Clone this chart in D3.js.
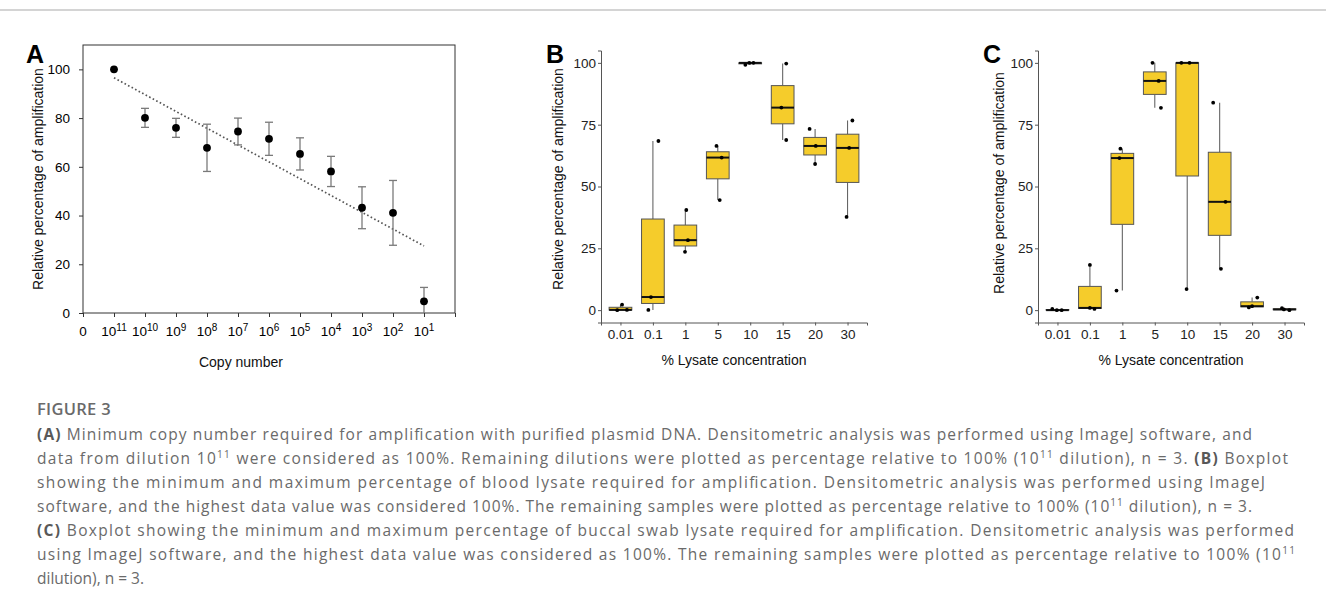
<!DOCTYPE html>
<html lang="en">
<head>
<meta charset="UTF-8">
<title>Figure 3</title>
<script src="https://cdn.jsdelivr.net/npm/d3@7"></script>
<style>
  body { margin: 0; background: #fff; }
  svg { display: block; font-family: "Liberation Sans", Arial, sans-serif; }
  .tick text { font-size: 13.5px; }
  .caption text { font-family: "Open Sans", Lato, sans-serif; font-size: 15.5px; fill: #6a6a6a; }
  .caption .b { font-weight: bold; fill: #585858; }
</style>
</head>
<body>
<svg id="fig" width="1326" height="607"></svg>
<script>
// ---- data ----
// panel A: copy number (10^x) vs relative amplification, mean +/- error
const copyExp = [11, 10, 9, 8, 7, 6, 5, 4, 3, 2, 1];
const copyMean = [100, 80.1, 76, 67.8, 74.5, 71.5, 65.3, 58.1, 43.2, 41.1, 4.8];
const copyErr = [0, 3.9, 3.9, 9.7, 5.5, 6.8, 6.6, 6.2, 8.6, 13.3, 5.7];
const yTicksA = [0, 20, 40, 60, 80, 100];

// panels B and C: % lysate concentration, three replicates each
const lysate = ["0.01", "0.1", "1", "5", "10", "15", "20", "30"];
const bloodPts = [
  [0, 0.1, 2.2], [0.1, 5.3, 68.4], [23.6, 28.3, 40.5], [44.5, 61.7, 66.4],
  [99.2, 100, 100], [68.8, 81.9, 99.7], [59.1, 66.4, 73.3], [37.7, 65.6, 76.7]
];
const buccalPts = [
  [0, 0, 0.5], [0.5, 0.9, 18.3], [7.9, 61.5, 65.3], [81.8, 92.7, 100],
  [8.5, 100, 100], [16.7, 43.8, 83.9], [1.1, 1.6, 5.1], [0, 0.3, 0.8]
];
const yTicksBC = [0, 25, 50, 75, 100];

// horizontal jitter of the replicate dots (fraction of category step)
const jitterB = [[-0.1, 0.2, 0.05], [-0.14, -0.06, 0.17], [-0.01, 0.08, 0.03], [0.06, 0.12, -0.04],
                 [-0.15, -0.03, 0.1], [0.11, -0.04, 0.11], [0, 0.02, -0.17], [-0.03, 0.05, 0.15]];
const jitterC = [[-0.02, 0.13, -0.16], [0.14, 0, 0], [-0.18, -0.09, -0.06], [0.19, 0.12, -0.07],
                 [-0.02, -0.18, 0.07], [0.04, 0.18, -0.2], [-0.1, 0, 0.16], [0.15, -0.02, -0.08]];

const svg = d3.select("#fig");
const yellow = "#F5CC2B";

// thin rule at the top of the figure
svg.append("line").attr("x1", 0).attr("x2", 1326).attr("y1", 10).attr("y2", 10)
  .attr("stroke", "#d4d4d4").attr("stroke-width", 2);

// ---- panel A ----
const xA = d3.scaleLinear().domain([0, 12]).range([83, 455]);
const yA = d3.scaleLinear().domain([0, 110]).range([313, 45]);
const gA = svg.append("g");

gA.append("rect")
  .attr("x", xA(0)).attr("y", yA(110))
  .attr("width", xA(12) - xA(0)).attr("height", yA(0) - yA(110))
  .attr("fill", "none").attr("stroke", "#333");

gA.append("g")
  .attr("transform", `translate(${xA(0)},0)`)
  .call(d3.axisLeft(yA).tickValues(yTicksA).tickSize(4).tickPadding(9))
  .attr("font-size", null).attr("font-family", null)
  .call(g => g.select(".domain").remove())
  .call(g => g.selectAll("line").attr("stroke", "#333"))
  .call(g => g.selectAll("text").attr("fill", "#000"));

gA.append("g")
  .attr("transform", `translate(0,${yA(0)})`)
  .call(d3.axisBottom(xA).tickValues(d3.range(0, 13)).tickSize(4).tickFormat(""))
  .call(g => g.select(".domain").remove())
  .call(g => g.selectAll("line").attr("stroke", "#333"));

// x tick labels: 0, then 10^11 ... 10^1
const xLab = gA.append("g").style("font-size", "13.5px").attr("fill", "#000");
xLab.append("text").attr("x", xA(0)).attr("y", 336).attr("text-anchor", "middle").text("0");
copyExp.forEach((e, i) => {
  const t = xLab.append("text").attr("x", xA(i + 1)).attr("y", 336).attr("text-anchor", "middle");
  t.append("tspan").text("10");
  t.append("tspan").style("font-size", "10px").attr("dy", -5).text(e);
});

// linear trend (least squares on the means)
const xs = copyMean.map((d, i) => i + 1);
const mx = d3.mean(xs), my = d3.mean(copyMean);
const slope = d3.sum(xs, (x, i) => (x - mx) * (copyMean[i] - my)) / d3.sum(xs, x => (x - mx) ** 2);
const icpt = my - slope * mx;
gA.append("line")
  .attr("x1", xA(1)).attr("y1", yA(icpt + slope * 1))
  .attr("x2", xA(11)).attr("y2", yA(icpt + slope * 11))
  .attr("stroke", "#555").attr("stroke-width", 1.7).attr("stroke-dasharray", "1.6,2.4");

// error bars
const eb = gA.append("g").attr("stroke", "#7a7a7a").attr("stroke-width", 1.3);
copyMean.forEach((m, i) => {
  if (!copyErr[i]) return;
  const x = xA(i + 1);
  const lo = Math.max(0, m - copyErr[i]), hi = m + copyErr[i];
  eb.append("line").attr("x1", x).attr("x2", x).attr("y1", yA(lo)).attr("y2", yA(hi));
  eb.append("line").attr("x1", x - 4).attr("x2", x + 4).attr("y1", yA(hi)).attr("y2", yA(hi));
  if (lo > 0) eb.append("line").attr("x1", x - 4).attr("x2", x + 4).attr("y1", yA(lo)).attr("y2", yA(lo));
});

gA.selectAll("circle.pt").data(copyMean).join("circle")
  .attr("class", "pt")
  .attr("cx", (d, i) => xA(i + 1)).attr("cy", d => yA(d))
  .attr("r", 3.9).attr("fill", "#000");

gA.append("text").attr("transform", "translate(43,179) rotate(-90)")
  .attr("text-anchor", "middle").style("font-size", "14px").attr("fill", "#111")
  .text("Relative percentage of amplification");
gA.append("text").attr("x", 241).attr("y", 367).attr("text-anchor", "middle")
  .style("font-size", "14px").attr("fill", "#111").text("Copy number");
gA.append("text").attr("x", 26).attr("y", 63).style("font-size", "25px").attr("font-weight", "bold").text("A");

// ---- panels B and C (boxplots) ----
function boxPanel(opts) {
  const x = d3.scalePoint().domain(lysate).range([opts.x0, opts.x0 + 266]).padding(0.6);
  const y = d3.scaleLinear().domain([-5, 105]).range([322.5, 50.5]);
  const step = x.step(), bw = step * 0.7;
  const g = svg.append("g");

  g.append("g").attr("transform", `translate(${opts.x0},0)`)
    .call(d3.axisLeft(y).tickValues(yTicksBC).tickSize(3).tickPadding(opts.pad))
    .attr("font-size", null).attr("font-family", null)
    .call(a => a.select(".domain").attr("stroke", "#555"))
    .call(a => a.selectAll("line").attr("stroke", "#555"))
    .call(a => a.selectAll("text").attr("fill", "#222"));
  g.append("g").attr("transform", `translate(0,${y(-5)})`)
    .call(d3.axisBottom(x).tickSize(3).tickPadding(4))
    .attr("font-size", null).attr("font-family", null)
    .call(a => a.select(".domain").attr("stroke", "#555"))
    .call(a => a.selectAll("line").attr("stroke", "#555"))
    .call(a => a.selectAll("text").attr("fill", "#222"));

  opts.pts.forEach((p, i) => {
    const s = p.slice().sort(d3.ascending);
    const q1 = d3.quantile(s, 0.25), med = d3.quantile(s, 0.5), q3 = d3.quantile(s, 0.75);
    const iqr = q3 - q1;
    const lo = d3.min(s.filter(v => v >= q1 - 1.5 * iqr));
    const hi = d3.max(s.filter(v => v <= q3 + 1.5 * iqr));
    const cx = x(lysate[i]);
    g.append("line").attr("x1", cx).attr("x2", cx).attr("y1", y(hi)).attr("y2", y(q3))
      .attr("stroke", "#666").attr("stroke-width", 1.1);
    g.append("line").attr("x1", cx).attr("x2", cx).attr("y1", y(q1)).attr("y2", y(lo))
      .attr("stroke", "#666").attr("stroke-width", 1.1);
    g.append("rect").attr("x", cx - bw / 2).attr("y", y(q3))
      .attr("width", bw).attr("height", Math.max(0.5, y(q1) - y(q3)))
      .attr("fill", yellow).attr("stroke", "#555").attr("stroke-width", 1);
    g.append("line").attr("x1", cx - bw / 2).attr("x2", cx + bw / 2).attr("y1", y(med)).attr("y2", y(med))
      .attr("stroke", "#111").attr("stroke-width", 2);
    s.forEach((v, k) => {
      g.append("circle").attr("cx", cx + opts.jit[i][k] * step).attr("cy", y(v))
        .attr("r", 1.9).attr("fill", "#000");
    });
  });

  g.append("text").attr("transform", `translate(${opts.titleX},${opts.titleY}) rotate(-90)`)
    .attr("text-anchor", "middle").style("font-size", "14px").attr("fill", "#111")
    .text("Relative percentage of amplification");
  g.append("text").attr("x", opts.x0 + 133).attr("y", 365).attr("text-anchor", "middle")
    .style("font-size", "14px").attr("fill", "#111").text("% Lysate concentration");
  g.append("text").attr("x", opts.letterX).attr("y", 63).style("font-size", "25px")
    .attr("font-weight", "bold").text(opts.letter);
}

boxPanel({ x0: 601, pts: bloodPts, jit: jitterB, pad: 2, titleX: 563, titleY: 179, letter: "B", letterX: 546 });
boxPanel({ x0: 1038, pts: buccalPts, jit: jitterC, pad: 2, titleX: 1004, titleY: 183, letter: "C", letterX: 983 });

// ---- caption ----
const capLines = [
  [["(A)", "b"], [" Minimum copy number required for amplification with purified plasmid DNA. Densitometric analysis was performed using ImageJ software, and"]],
  [["data from dilution 10"], ["11", "sup"], [" were considered as 100%. Remaining dilutions were plotted as percentage relative to 100% (10"], ["11", "sup"], [" dilution), n = 3. "], ["(B)", "b"], [" Boxplot"]],
  [["showing the minimum and maximum percentage of blood lysate required for amplification. Densitometric analysis was performed using ImageJ"]],
  [["software, and the highest data value was considered 100%. The remaining samples were plotted as percentage relative to 100% (10"], ["11", "sup"], [" dilution), n = 3."]],
  [["(C)", "b"], [" Boxplot showing the minimum and maximum percentage of buccal swab lysate required for amplification. Densitometric analysis was performed"]],
  [["using ImageJ software, and the highest data value was considered as 100%. The remaining samples were plotted as percentage relative to 100% (10"], ["11", "sup"]],
  [["dilution), n = 3."]]
];
const capEnds = [1252, 1288, 1265, 1252, 1294, 1295, null];

const cap = svg.append("g").attr("class", "caption");
cap.append("text").attr("x", 37).attr("y", 415)
  .style("font-size", "16.5px").attr("letter-spacing", 0.3).attr("font-weight", 600).text("FIGURE 3");
capLines.forEach((line, i) => {
  const t = cap.append("text").attr("x", 37).attr("y", 440 + i * 24);
  let raised = false;
  line.forEach(([txt, kind]) => {
    const sp = t.append("tspan").text(txt);
    if (kind === "b") sp.attr("class", "b");
    if (kind === "sup") { sp.style("font-size", "10px").attr("dy", -6); raised = true; }
    else if (raised) { sp.attr("dy", 6); raised = false; }
  });
  if (capEnds[i]) t.attr("textLength", capEnds[i] - 37).attr("lengthAdjust", "spacing");
});
</script>
</body>
</html>
